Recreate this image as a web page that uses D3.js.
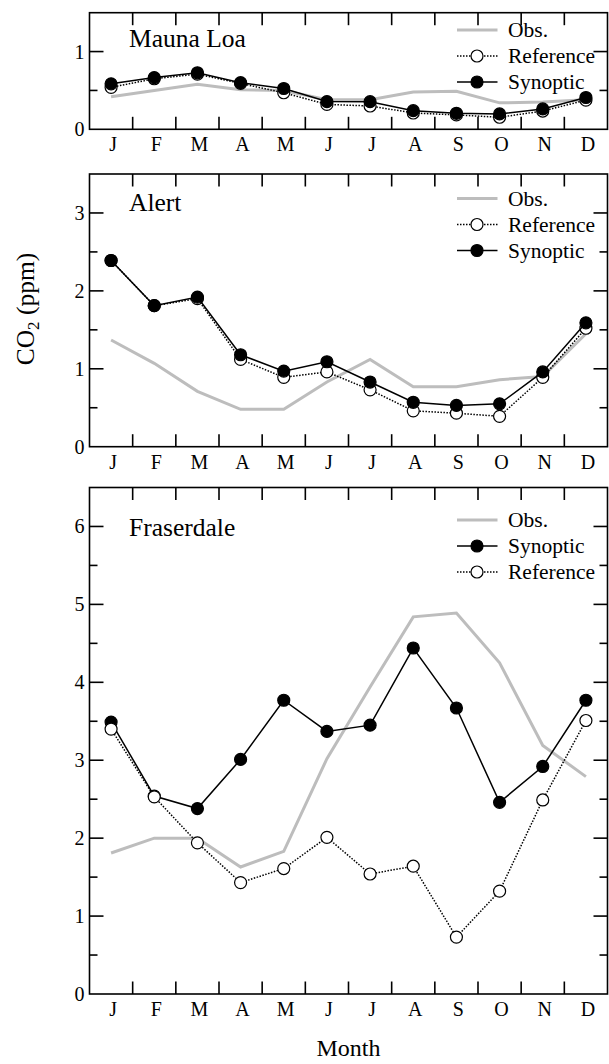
<!DOCTYPE html>
<html lang="en">
<head>
<meta charset="UTF-8">
<title>CO2 seasonal cycle</title>
<script src="https://d3js.org/d3.v7.min.js"></script>
<style>
  body { margin: 0; background: #fff; }
  text { font-family: "Liberation Serif", "Times New Roman", serif; fill: #000; }
  .frame { fill: none; stroke: #000; stroke-width: 1.6; }
  .tick { stroke: #000; stroke-width: 1.6; }
  .obs { fill: none; stroke: #bdbdbd; stroke-width: 3; }
  .syn { fill: none; stroke: #000; stroke-width: 1.5; }
  .ref { fill: none; stroke: #000; stroke-width: 1.5; stroke-dasharray: 1.5,1.5; }
</style>
</head>
<body>
<svg width="609" height="1064"></svg>
<script>
// months on the x axis
var months = ["J", "F", "M", "A", "M", "J", "J", "A", "S", "O", "N", "D"];

// Mauna Loa
var maunaObs = [0.42, 0.50, 0.58, 0.51, 0.50, 0.38, 0.38, 0.48, 0.49, 0.34, 0.35, 0.38];
var maunaRef = [0.54, 0.65, 0.71, 0.59, 0.47, 0.32, 0.30, 0.21, 0.185, 0.155, 0.235, 0.375];
var maunaSyn = [0.585, 0.665, 0.727, 0.60, 0.525, 0.357, 0.355, 0.24, 0.206, 0.198, 0.262, 0.409];

// Alert
var alertObs = [1.37, 1.07, 0.71, 0.48, 0.48, 0.83, 1.12, 0.77, 0.77, 0.86, 0.90, 1.45];
var alertRef = [2.39, 1.81, 1.90, 1.12, 0.89, 0.96, 0.73, 0.46, 0.43, 0.39, 0.89, 1.52];
var alertSyn = [2.39, 1.81, 1.92, 1.18, 0.97, 1.09, 0.83, 0.57, 0.53, 0.55, 0.96, 1.59];

// Fraserdale
var fraserObs = [1.81, 2.00, 2.00, 1.63, 1.83, 3.02, 3.94, 4.84, 4.89, 4.25, 3.19, 2.79];
var fraserSyn = [3.49, 2.54, 2.38, 3.01, 3.77, 3.37, 3.45, 4.44, 3.67, 2.46, 2.92, 3.77];
var fraserRef = [3.40, 2.53, 1.94, 1.43, 1.61, 2.01, 1.54, 1.64, 0.73, 1.32, 2.49, 3.51];

var panels = [
  { name: "Mauna Loa", top: 12.7, bottom: 129.3, ymax: 1.5, titleY: 46.5, legY: 30,
    series: [["Obs.", "obs", maunaObs], ["Reference", "ref", maunaRef], ["Synoptic", "syn", maunaSyn]] },
  { name: "Alert", top: 174, bottom: 446.7, ymax: 3.5, titleY: 210.5, legY: 198.5,
    series: [["Obs.", "obs", alertObs], ["Reference", "ref", alertRef], ["Synoptic", "syn", alertSyn]] },
  { name: "Fraserdale", top: 487.5, bottom: 994, ymax: 6.5, titleY: 536, legY: 520,
    series: [["Obs.", "obs", fraserObs], ["Synoptic", "syn", fraserSyn], ["Reference", "ref", fraserRef]] }
];

var svg = d3.select("svg");
var left = 89.5, right = 607.5;

var x = d3.scaleBand()
  .domain(d3.range(12))
  .range([left, right]);

panels.forEach(function(p) {
  var y = d3.scaleLinear().domain([0, p.ymax]).range([p.bottom, p.top]);
  var g = svg.append("g");

  // month ticks on top and bottom (band boundaries)
  var edges = d3.range(1, 12).map(function(i) { return x(i); });
  edges.forEach(function(ex) {
    g.append("line").attr("class", "tick")
      .attr("x1", ex).attr("x2", ex).attr("y1", p.bottom).attr("y2", p.bottom - 12.5);
    g.append("line").attr("class", "tick")
      .attr("x1", ex).attr("x2", ex).attr("y1", p.top).attr("y2", p.top + 12.5);
  });

  // y ticks, major at integers, minor at halves, on both sides
  d3.range(0, p.ymax + 0.01, 0.5).forEach(function(v) {
    var major = Math.abs(v - Math.round(v)) < 1e-6;
    var len = major ? 14 : 8;
    if (v > 0 && v < p.ymax) {
      g.append("line").attr("class", "tick")
        .attr("x1", left).attr("x2", left + len).attr("y1", y(v)).attr("y2", y(v));
      g.append("line").attr("class", "tick")
        .attr("x1", right).attr("x2", right - len).attr("y1", y(v)).attr("y2", y(v));
    }
    if (major) {
      g.append("text")
        .attr("x", left - 5).attr("y", y(v)).attr("dy", "0.35em")
        .attr("text-anchor", "end").style("font-size", "20px")
        .text(v);
    }
  });

  // month labels
  g.selectAll(".mlab").data(months).enter().append("text")
    .attr("x", function(d, i) { return x(i) + x.bandwidth() / 2 + 2; })
    .attr("y", p.bottom + 22)
    .attr("text-anchor", "middle").style("font-size", "20px")
    .text(function(d) { return d; });

  // series
  var line = d3.line()
    .x(function(d, i) { return x(i) + x.bandwidth() / 2; })
    .y(function(d) { return y(d); });

  p.series.forEach(function(s, k) {
    g.append("path").attr("class", s[1]).attr("d", line(s[2]));
    if (s[1] !== "obs") {
      g.selectAll(".pt" + k).data(s[2]).enter().append("circle")
        .attr("cx", function(d, i) { return x(i) + x.bandwidth() / 2; })
        .attr("cy", function(d) { return y(d); })
        .attr("r", 6)
        .attr("fill", s[1] === "syn" ? "#000" : "#fff")
        .attr("stroke", "#000").attr("stroke-width", 1.2);
    }

    // legend row
    var ly = p.legY + k * 26;
    g.append("line").attr("class", s[1])
      .attr("x1", 457).attr("x2", 497.5).attr("y1", ly).attr("y2", ly);
    if (s[1] !== "obs") {
      g.append("circle").attr("cx", 477).attr("cy", ly).attr("r", 6)
        .attr("fill", s[1] === "syn" ? "#000" : "#fff")
        .attr("stroke", "#000").attr("stroke-width", 1.2);
    }
    g.append("text").attr("x", 508).attr("y", ly).attr("dy", "0.33em")
      .style("font-size", "21.5px").text(s[0]);
  });

  // frame
  g.append("rect").attr("class", "frame")
    .attr("x", left).attr("y", p.top)
    .attr("width", right - left).attr("height", p.bottom - p.top);

  // station name
  g.append("text").attr("x", 129).attr("y", p.titleY)
    .style("font-size", "25.5px").text(p.name);
});

// axis titles
var yl = svg.append("text")
  .attr("transform", "translate(33.5,309) rotate(-90)")
  .attr("text-anchor", "middle")
  .style("font-size", "25.5px");
yl.append("tspan").text("CO");
yl.append("tspan").attr("dy", 5).style("font-size", "17px").text("2");
yl.append("tspan").attr("dy", -5).text(" (ppm)");

svg.append("text")
  .attr("x", (left + right) / 2).attr("y", 1056)
  .attr("text-anchor", "middle").style("font-size", "24px")
  .text("Month");
</script>
</body>
</html>
